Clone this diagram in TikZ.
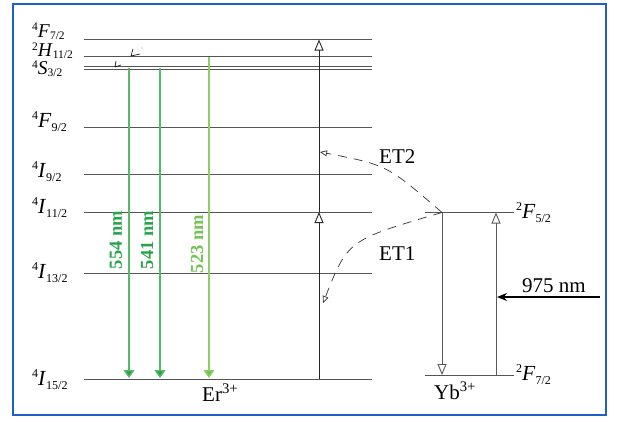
\documentclass[tikz,border=0pt]{standalone}
\usepackage{fontspec}
\setmainfont{Liberation Serif}
\usetikzlibrary{arrows.meta}
\definecolor{frameblue}{RGB}{30,95,200}
\definecolor{lvlgray}{RGB}{85,85,85}
\definecolor{gA}{RGB}{85,185,105}
\definecolor{gAdark}{RGB}{40,165,75}
\definecolor{gB}{RGB}{140,208,100}
\definecolor{gBdark}{RGB}{115,195,85}
\newcommand\lvl[3]{\smash{\raisebox{7.5pt}{\fontsize{12}{12}\selectfont #1}}\textit{#2}\smash{\raisebox{-4pt}{\fontsize{12}{12}\selectfont #3}}}
\newcommand\lvltop[3]{\smash{\raisebox{6.5pt}{\fontsize{11.5}{11.5}\selectfont #1}}\textit{#2}\smash{\raisebox{-2pt}{\fontsize{11.5}{11.5}\selectfont #3}}}
\begin{document}
\begin{tikzpicture}[x=1pt,y=-1pt,
  level/.style={draw=lvlgray, line width=1pt},
  lab/.style={anchor=base west, inner sep=0pt, font=\fontsize{21.5}{22}\selectfont},
  toplab/.style={lab, font=\fontsize{19.5}{20}\selectfont},
  txt/.style={inner sep=0pt, font=\fontsize{21}{23}\selectfont},
  pump/.style={draw=black!85, line width=0.9pt, -{Triangle[open,length=11pt,width=9pt]}},
  ybarrow/.style={draw=black!65, line width=0.9pt, -{Triangle[open,length=11pt,width=9pt]}},
  etline/.style={draw=black!80, line width=0.7pt, dash pattern=on 9pt off 7pt, -{Triangle[open,length=7pt,width=6pt]}},
  emA/.style={draw=gA, line width=1.3pt, -{Triangle[length=8pt,width=11pt,fill=gAdark]}},
  emB/.style={draw=gB, line width=1.3pt, -{Triangle[length=8pt,width=11pt,fill=gBdark]}},
  nmlab/.style={inner sep=0pt, rotate=90, font=\fontsize{18.5}{20}\selectfont\bfseries}
]
\useasboundingbox (0,0) rectangle (619,421);
\draw[frameblue, line width=2pt] (13,4) rectangle (606,415);

% Er levels
\foreach \n/\y in {F72/39.5, H112/56.5, S32a/66, S32b/69.5, F92/127, I92/174, I112/212, I132/273, I152/379}{
  \coordinate (\n L) at (84,\y);
  \coordinate (\n R) at (372,\y);
  \draw[level] (\n L) -- (\n R);
}
% Yb levels
\coordinate (F52L) at (425,212.5); \coordinate (F52R) at (514,212.5);
\coordinate (F72YL) at (425,375); \coordinate (F72YR) at (514,375);
\draw[level] (F52L) -- (F52R);
\draw[level] (F72YL) -- (F72YR);

% level labels
\node[toplab] (lF72) at (32,37) {\lvltop{4}{F}{7/2}};
\node[toplab] (lH112) at (32,56.5) {\lvltop{2}{H}{11/2}};
\node[toplab] (lS32) at (32,74.5) {\lvltop{4}{S}{3/2}};
\node[lab] (lF92) at (32,127) {\lvl{4}{F}{9/2}};
\node[lab] (lI92) at (32,177) {\lvl{4}{I}{9/2}};
\node[lab] (lI112) at (32,213) {\lvl{4}{I}{11/2}};
\node[lab] (lI132) at (32,278) {\lvl{4}{I}{13/2}};
\node[lab] (lI152) at (32,385) {\lvl{4}{I}{15/2}};
\node[lab] (lF52) at (516,218) {\lvl{2}{F}{5/2}};
\node[lab] (lF72Y) at (516,380) {\lvl{2}{F}{7/2}};

% pump arrows (Er)
\coordinate (pB) at (319,379);
\coordinate (pM) at (319,212);
\coordinate (pT) at (319,39.5);
\draw[pump] (pB) -- (pM);
\draw[pump] (pM) -- (pT);

% Yb arrows
\coordinate (ydT) at (442,212.5); \coordinate (ydB) at (442,375);
\coordinate (yuB) at (496,375); \coordinate (yuT) at (496,212.5);
\draw[ybarrow] (ydT) -- (ydB);
\draw[ybarrow] (yuB) -- (yuT);

% 975 nm excitation
\coordinate (exS) at (600,297); \coordinate (exE) at (497,297);
\draw[black, line width=1.3pt, -{Stealth[length=10pt,width=8pt]}] (exS) -- (exE);
\node[txt, anchor=base west] (l975) at (522,292) {975 nm};

% energy transfer
\coordinate (et2E) at (320,152);
\coordinate (et1E) at (323,303);
\draw[etline] (ydT) .. controls (387,165) .. (et2E);
\draw[etline] (ydT) .. controls (348,240) .. (et1E);
\node[txt, anchor=west] (lET2) at (379,157) {ET2};
\node[txt, anchor=west] (lET1) at (379,254) {ET1};

% green emissions
\coordinate (g1T) at (129,68); \coordinate (g1B) at (129,378);
\coordinate (g2T) at (160,68); \coordinate (g2B) at (160,378);
\coordinate (g3T) at (209,56.5); \coordinate (g3B) at (209,378);
\draw[emA] (g1T) -- (g1B);
\draw[emA] (g2T) -- (g2B);
\draw[emB] (g3T) -- (g3B);
\node[nmlab, text=gAdark] (l554) at (116,240) {554 nm};
\node[nmlab, text=gAdark] (l541) at (147,240) {541 nm};
\node[nmlab, text=gBdark] (l523) at (197,244) {523 nm};

% relaxation marks
\draw[black, line width=0.6pt] (131,56) -- (133,49) (131,56) -- (140,54);
\fill[black!40] (142,48) circle (0.6pt);
\draw[black, line width=0.6pt] (115,67) -- (116,61) (115,67) -- (121,65);

% ion labels
\node[txt, anchor=base west] (lEr) at (202,401) {Er\textsuperscript{3+}};
\node[txt, anchor=base west] (lYb) at (434,399) {Yb\textsuperscript{3+}};
\end{tikzpicture}
\end{document}
